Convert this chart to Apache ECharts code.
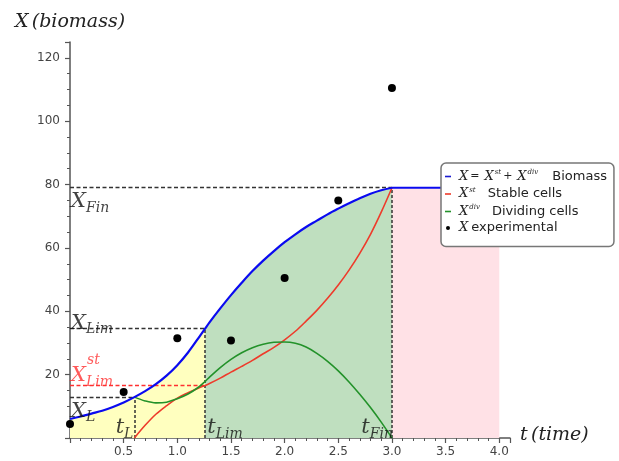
<!DOCTYPE html>
<html><head><meta charset="utf-8">
<script src="https://cdn.jsdelivr.net/npm/echarts@6/dist/echarts.min.js"></script>
<style>html,body{margin:0;padding:0;background:#fff}#c{width:619px;height:461px}</style>
</head><body><div id="c"></div><script>
// ---- data ----
const tBio = [0,0.1,0.2,0.3,0.4,0.5,0.6,0.7,0.8,0.9,1.0,1.1,1.2,1.26,1.3,1.4,1.5,1.6,1.7,1.8,1.9,2.0,2.1,2.2,2.3,2.4,2.5,2.6,2.7,2.8,2.9,3.0];
const xBio = [6,6.8,7.7,8.6,9.8,11.2,12.9,14.8,17,19.7,23.0,27.0,31.7,34.6,36.5,40.9,45.1,49.0,52.7,56.0,59,61.8,64.3,66.6,68.6,70.6,72.4,74.1,75.7,77.1,78.2,79];
const tPlateau = [3.0, 4.0];
const xPlateau = [79, 79];
const tRed = [0.6,0.7,0.8,0.9,1.0,1.1,1.2,1.26,1.3,1.4,1.5,1.6,1.7,1.8,1.9,2.0,2.1,2.2,2.3,2.4,2.5,2.6,2.7,2.8,2.9,3.0];
const xRed = [0,4,7.5,10.2,12.6,14.3,15.8,16.6,17.2,18.9,20.8,22.6,24.5,26.6,28.6,31,33.7,36.9,40.3,44.1,48.3,53,58.3,64.3,71.3,79];
const tGreen = [0.6,0.7,0.8,0.9,1.0,1.1,1.2,1.26,1.3,1.4,1.5,1.6,1.7,1.8,1.9,2.0,2.1,2.2,2.3,2.4,2.5,2.6,2.7,2.8,2.9,3.0];
const xGreen = [12.9,11.7,11.1,11.3,12.4,13.9,16.1,17.9,19.2,22.2,24.8,26.9,28.5,29.6,30.2,30.3,29.9,28.7,26.7,24.2,21.2,17.7,13.8,9.6,5.0,0];
const tExp = [0,0.5,1.0,1.5,2.0,2.5,3.0];
const xExp = [4.4,14.5,31.5,30.8,50.5,75,110.5];
const tL = 0.6, tLim = 1.26, tFin = 3.0;
const XL = 12.9, XLim = 34.7, XLimSt = 16.5, XFin = 79;
const xTickLabels = ['0.5','1.0','1.5','2.0','2.5','3.0','3.5','4.0'];
const yTickLabels = ['20','40','60','80','100','120'];

const zip = (a, b) => a.map((v, i) => [v, b[i]]);
const bio = zip(tBio, xBio);
const yellowPts = bio.filter(p => p[0] <= tLim);
const greenPts = bio.filter(p => p[0] >= tLim);

const SERIF = 'DejaVu Serif';
const mathRich = (color) => ({
  m: {fontFamily: SERIF, fontStyle: 'italic', fontSize: 21, color: color},
  s: {fontFamily: SERIF, fontStyle: 'italic', fontSize: 14, color: color, padding: [13, 0, 0, 0]}
});
const blackRich = mathRich('#111');
const redRich = mathRich('#ff3030');

const guide = {color: '#333', width: 1.3, type: [4, 2.5]};
const guideV = {color: '#333', width: 1.5, type: [3, 2]};
const SM = 0.35;

const chart = echarts.init(document.getElementById('c'));
chart.setOption({
  animation: false,
  backgroundColor: '#fff',
  grid: {left: 70, right: 109, top: 42, bottom: 23, outerBoundsMode: 'none'},
  xAxis: [{
    type: 'value', min: 0, max: 4.1, interval: 0.5,
    name: '{m|t} {m|(time)}', nameLocation: 'end', nameGap: 10,
    nameTextStyle: {rich: {m: {fontFamily: SERIF, fontStyle: 'italic', fontSize: 19, color: '#222'}}, padding: [0, 0, 6, 0]},
    axisLine: {onZero: false, lineStyle: {color: '#555', width: 1.5}},
    axisTick: {length: 5, lineStyle: {color: '#555', width: 1.2}},
    splitLine: {show: false},
    axisLabel: {margin: 8, fontFamily: 'DejaVu Sans', fontSize: 12, color: '#444',
      formatter: v => { const s = v.toFixed(1); return xTickLabels.includes(s) ? s : ''; }}
  }, {
    type: 'value', min: 0, max: 4.1, interval: 0.1, position: 'bottom',
    axisLine: {show: false}, axisLabel: {show: false}, splitLine: {show: false},
    axisTick: {length: 3, lineStyle: {color: '#555', width: 1}}
  }],
  yAxis: [{
    type: 'value', min: 0, max: 125, interval: 20,
    name: '{m|X} {m|(biomass)}', nameLocation: 'end', nameGap: 10,
    nameTextStyle: {rich: {m: {fontFamily: SERIF, fontStyle: 'italic', fontSize: 19, color: '#222'}}},
    axisLine: {show: true, onZero: false, lineStyle: {color: '#555', width: 1.5}},
    axisTick: {show: true, length: 5, lineStyle: {color: '#555', width: 1.2}},
    splitLine: {show: false},
    axisLabel: {margin: 10, fontFamily: 'DejaVu Sans', fontSize: 12, color: '#444',
      formatter: v => { const s = String(Math.round(v)); return (yTickLabels.includes(s) && Math.abs(v - Math.round(v)) < 1e-9) ? s : ''; }}
  }, {
    type: 'value', min: 0, max: 125, interval: 5, position: 'left',
    axisLine: {show: false}, axisLabel: {show: false}, splitLine: {show: false},
    axisTick: {show: true, length: 3, lineStyle: {color: '#555', width: 1}}
  }],
  legend: {
    left: 441, top: 163, orient: 'vertical',
    backgroundColor: '#fff', borderColor: '#777', borderWidth: 1.5, borderRadius: 5,
    padding: [6, 7, 12, 4], itemGap: 3.5, itemWidth: 6, itemHeight: 4, z: 20,
    data: [
      {name: 'Biomass', icon: 'path://M0,0H6V1.6H0Z'},
      {name: 'Stable cells', icon: 'path://M0,0H6V1.6H0Z'},
      {name: 'Dividing cells', icon: 'path://M0,0H6V1.6H0Z'},
      {name: 'X experimental', icon: 'circle'}
    ],
    formatter: function (name) {
      if (name === 'Biomass') return '{mi|X}{mn|=}{mi|X}{sp|st}{mn|+}{mi|X}{sp|div}{t|Biomass}';
      if (name === 'Stable cells') return '{mi|X}{sp|st}{t2|Stable cells}';
      if (name === 'Dividing cells') return '{mi|X}{sp|div}{t2|Dividing cells}';
      return '{mi|X}{t3|experimental}';
    },
    textStyle: {
      fontFamily: 'DejaVu Sans', fontSize: 13, color: '#222',
      rich: {
        mi: {fontFamily: SERIF, fontStyle: 'italic', fontSize: 13, color: '#222', padding: [0, 0, 0, 3]},
        mn: {fontFamily: SERIF, fontSize: 11, color: '#222', padding: [0, 2, 0, 2]},
        sp: {fontFamily: SERIF, fontStyle: 'italic', fontSize: 7, color: '#222', padding: [0, 0, 8, 1]},
        t: {fontFamily: 'DejaVu Sans', fontSize: 13, color: '#222', padding: [0, 0, 0, 14]},
        t2: {fontFamily: 'DejaVu Sans', fontSize: 13, color: '#222', padding: [0, 0, 0, 12]},
        t3: {fontFamily: 'DejaVu Sans', fontSize: 13, color: '#222', padding: [0, 0, 0, 3]}
      }
    }
  },
  series: [
    {type: 'line', name: 'fillYellow', data: yellowPts, smooth: SM, symbol: 'none', silent: true, z: 1,
      lineStyle: {width: 0}, areaStyle: {color: '#ffffbf', opacity: 1}},
    {type: 'line', name: 'fillGreen', data: greenPts, smooth: SM, symbol: 'none', silent: true, z: 1,
      lineStyle: {width: 0}, areaStyle: {color: '#bfdfbf', opacity: 1}},
    {type: 'line', name: 'fillPink', data: zip(tPlateau, xPlateau), symbol: 'none', silent: true, z: 1,
      lineStyle: {width: 0}, areaStyle: {color: '#ffe1e6', opacity: 1},
      markLine: {silent: true, symbol: ['none', 'none'], label: {show: false}, z: 3,
        data: [
          [{coord: [0, XFin], lineStyle: guide}, {coord: [tFin, XFin]}],
          [{coord: [tFin, 0], lineStyle: guideV}, {coord: [tFin, XFin]}],
          [{coord: [0, XLim], lineStyle: guide}, {coord: [tLim, XLim]}],
          [{coord: [tLim, 0], lineStyle: guideV}, {coord: [tLim, XLim]}],
          [{coord: [0, XL], lineStyle: guide}, {coord: [tL, XL]}],
          [{coord: [tL, 0], lineStyle: guideV}, {coord: [tL, XL]}],
          [{coord: [0, XLimSt], lineStyle: {color: '#ff3030', width: 1.3, type: [4, 2.5]}}, {coord: [tLim, XLimSt]}]
        ]}},
    {type: 'line', name: 'Stable cells', data: zip(tRed, xRed), smooth: SM, symbol: 'none', z: 4,
      color: '#ee3b2b', lineStyle: {color: '#ee3b2b', width: 1.6}},
    {type: 'line', name: 'Dividing cells', data: zip(tGreen, xGreen), smooth: SM, symbol: 'none', z: 4,
      color: '#23922a', lineStyle: {color: '#23922a', width: 1.6}},
    {type: 'line', name: 'Biomass', data: bio, smooth: SM, symbol: 'none', z: 5,
      color: '#1a1ad0', lineStyle: {color: '#0a0af0', width: 2.2}},
    {type: 'line', name: 'plateau', data: zip(tPlateau, xPlateau), symbol: 'none', z: 5,
      lineStyle: {color: '#0a0af0', width: 2.2}},
    {type: 'scatter', name: 'X experimental', data: zip(tExp, xExp), symbol: 'circle', symbolSize: 8, z: 6,
      color: '#000', itemStyle: {color: '#000', opacity: 1}},
    {type: 'scatter', name: 'labels', symbolSize: 0, silent: true, z: 7,
      label: {show: true, position: 'right', distance: 1},
      data: [
        {value: [0, XFin], label: {offset: [0, 14], formatter: '{m|X}{s|Fin}', rich: blackRich}},
        {value: [0, XLim], label: {offset: [0, -5], formatter: '{m|X}{s|Lim}', rich: blackRich}},
        {value: [0, XLimSt], label: {offset: [0, -10], formatter: '{m|X}{s|Lim}', rich: redRich}},
        {value: [0, XLimSt], label: {offset: [16, -25], formatter: '{s|st}', rich: {s: {fontFamily: SERIF, fontStyle: 'italic', fontSize: 14, color: '#ff3030'}}}},
        {value: [0, XL], label: {offset: [0, 14], formatter: '{m|X}{s|L}', rich: blackRich}},
        {value: [tL, 0], label: {position: 'left', offset: [0, -10], formatter: '{m|t}{s|L}', rich: blackRich}},
        {value: [tLim, 0], label: {position: 'right', offset: [1, -10], formatter: '{m|t}{s|Lim}', rich: blackRich}},
        {value: [tFin, 0], label: {position: 'left', offset: [2, -10], formatter: '{m|t}{s|Fin}', rich: blackRich}}
      ]}
  ]
});
</script></body></html>
